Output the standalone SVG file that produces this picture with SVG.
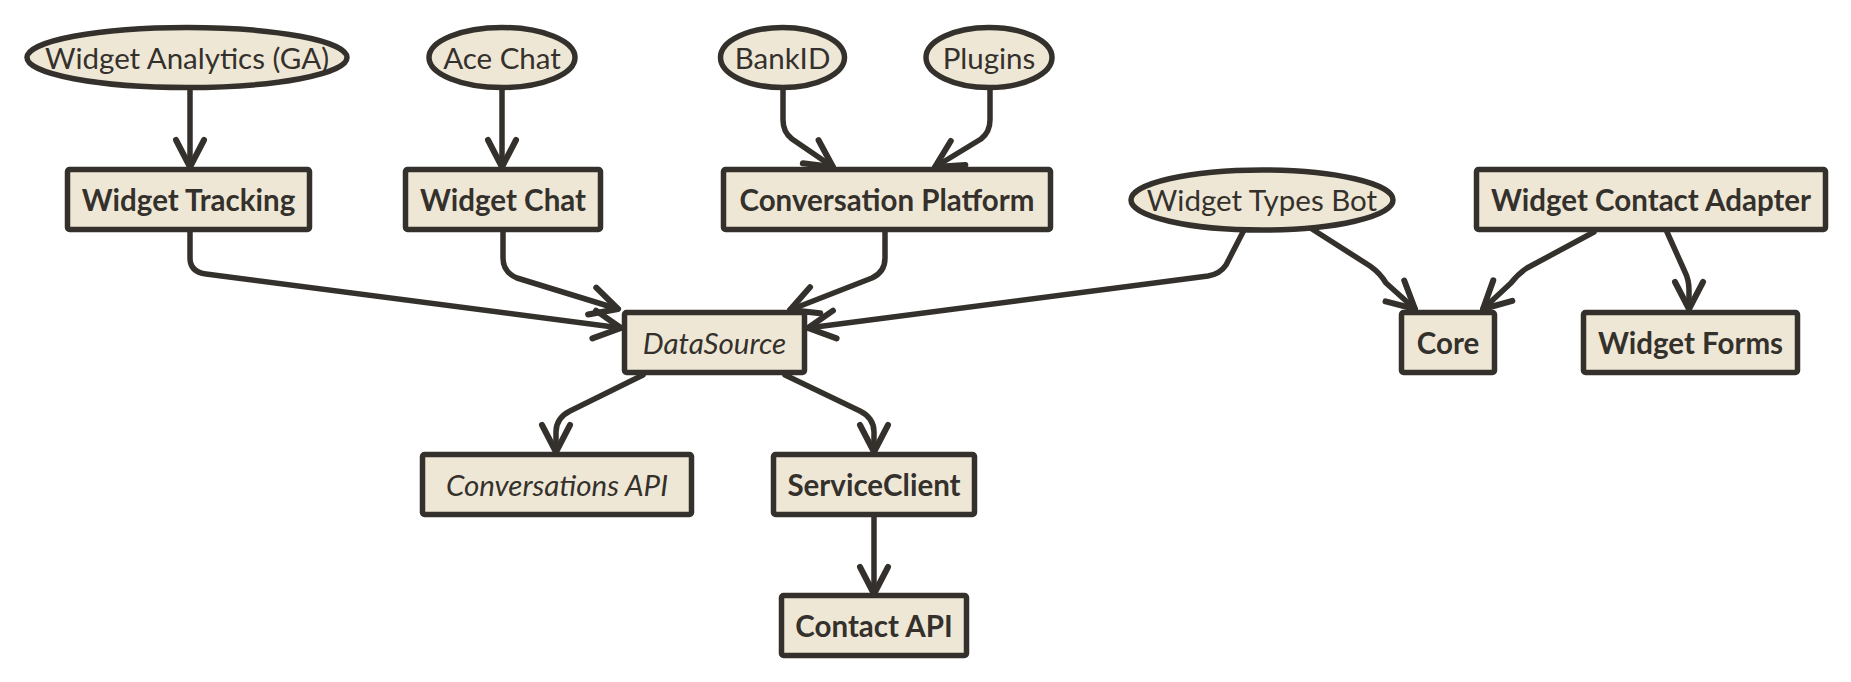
<svg xmlns="http://www.w3.org/2000/svg" width="1851" height="682" viewBox="0 0 1851 682">
<style>
.n{fill:#EFE7D6;stroke:#34312C;stroke-width:5.5}
.t{font-family:Lato,"Liberation Sans",sans-serif;font-size:29.5px;fill:#34312C;text-anchor:middle}
.b{font-weight:bold}
.i{font-style:italic}
.e{fill:none;stroke:#34312C;stroke-width:5.5;stroke-linecap:round;stroke-linejoin:round;marker-end:url(#arr)}
</style>
<defs>
<marker id="arr" markerUnits="userSpaceOnUse" markerWidth="40" markerHeight="40" viewBox="-30 -20 40 40" refX="0" refY="0" orient="auto" overflow="visible">
<path d="M-27,-14 L0,0 L-27,14" fill="none" stroke="#34312C" stroke-width="6" stroke-linecap="round" stroke-linejoin="round"/>
</marker>
</defs>
<rect width="1851" height="682" fill="#FFFFFF"/>
<g id="connectors">
<path class="e" d="M190,88 L190,167"/>
<path class="e" d="M502,88 L502,167"/>
<path class="e" d="M783,88 L783,120 Q783,132 792,139 L833,167"/>
<path class="e" d="M990,88 L990,120 Q990,132 981,139 L935,167"/>
<path class="e" d="M190,232 L190,258 Q190,272 206,274 L621,328"/>
<path class="e" d="M503,232 L503,258 Q503,272 517,278 L618,309"/>
<path class="e" d="M885,232 L885,258 Q885,272 872,278 L790,310"/>
<path class="e" d="M1244,230 L1226,265 Q1220,274 1208,276 L808,328"/>
<path class="e" d="M1312,229 L1370,266 Q1380,273 1386,283 L1415,309"/>
<path class="e" d="M1594,232 L1527,268 Q1518,274 1511,283 L1483,309"/>
<path class="e" d="M1667,232 L1685,272 Q1689,280 1689,290 L1689,309"/>
<path class="e" d="M643,375 L570,411 Q556,418 556,432 L556,452"/>
<path class="e" d="M785,375 L860,411 Q874,418 874,432 L874,452"/>
<path class="e" d="M874,517 L874,594"/>
</g>
<g id="widget-analytics"><ellipse class="n" cx="187" cy="57.5" rx="160" ry="30"/><text class="t" x="187" y="68.5">Widget Analytics (GA)</text></g>
<g id="ace-chat"><ellipse class="n" cx="502" cy="57.5" rx="73" ry="30"/><text class="t" x="502" y="68.5">Ace Chat</text></g>
<g id="bankid"><ellipse class="n" cx="782.5" cy="57.5" rx="62" ry="30"/><text class="t" x="782.5" y="68.5">BankID</text></g>
<g id="plugins"><ellipse class="n" cx="989" cy="57.5" rx="63" ry="30"/><text class="t" x="989" y="68.5">Plugins</text></g>
<g id="widget-tracking"><rect class="n" x="67.5" y="169.5" width="242" height="60" rx="2"/><text class="t b" x="188.5" y="210.5">Widget Tracking</text></g>
<g id="widget-chat"><rect class="n" x="405.5" y="169.5" width="195" height="60" rx="2"/><text class="t b" x="503" y="210.5">Widget Chat</text></g>
<g id="conversation-platform"><rect class="n" x="723.5" y="169.5" width="327" height="60" rx="2"/><text class="t b" x="887" y="210.5">Conversation Platform</text></g>
<g id="widget-types-bot"><ellipse class="n" cx="1262" cy="200" rx="131" ry="30"/><text class="t" x="1262" y="211">Widget Types Bot</text></g>
<g id="widget-contact-adapter"><rect class="n" x="1476.5" y="169.5" width="349" height="60" rx="2"/><text class="t b" x="1651" y="210.5">Widget Contact Adapter</text></g>
<g id="datasource"><rect class="n" x="624.5" y="312.5" width="180" height="60" rx="2"/><text class="t i" x="714.5" y="353.5">DataSource</text></g>
<g id="core"><rect class="n" x="1401.5" y="312.5" width="93" height="60" rx="2"/><text class="t b" x="1448" y="353.5">Core</text></g>
<g id="widget-forms"><rect class="n" x="1583.5" y="312.5" width="214" height="60" rx="2"/><text class="t b" x="1690.5" y="353.5">Widget Forms</text></g>
<g id="conversations-api"><rect class="n" x="422.5" y="454.5" width="269" height="60" rx="2"/><text class="t i" x="557" y="495.5">Conversations API</text></g>
<g id="serviceclient"><rect class="n" x="773.5" y="454.5" width="201" height="60" rx="2"/><text class="t b" x="874" y="495.5">ServiceClient</text></g>
<g id="contact-api"><rect class="n" x="781.5" y="595.5" width="185" height="60" rx="2"/><text class="t b" x="874" y="636.5">Contact API</text></g>
</svg>
